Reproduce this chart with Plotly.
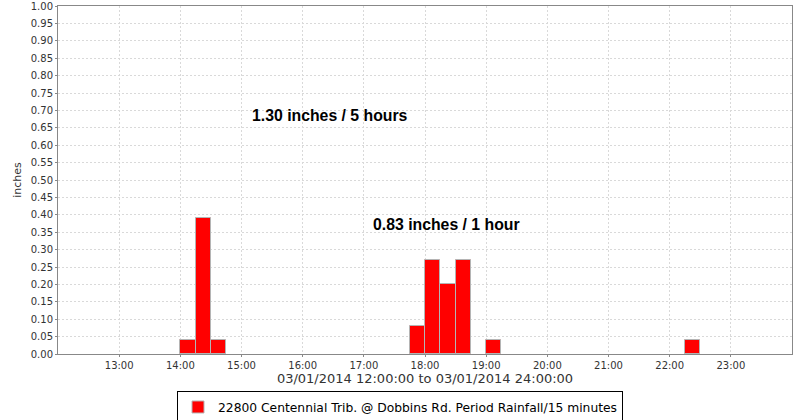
import plotly.graph_objects as go

# 15-minute period start times and rainfall (inches)
period_starts = ["2014-03-01 14:00", "2014-03-01 14:15", "2014-03-01 14:30",
                 "2014-03-01 17:45", "2014-03-01 18:00", "2014-03-01 18:15",
                 "2014-03-01 18:30", "2014-03-01 19:00", "2014-03-01 22:15"]
rainfall = [0.04, 0.39, 0.04, 0.08, 0.27, 0.20, 0.27, 0.04, 0.04]

series_name = "22800 Centennial Trib. @ Dobbins Rd. Period Rainfall/15 minutes"
tick_vals = ["2014-03-01 %02d:00" % h for h in range(13, 24)]
tick_text = ["%02d:00" % h for h in range(13, 24)]
y_ticks = [i * 0.05 for i in range(21)]
y_tick_text = ["%.2f" % v for v in y_ticks]

fig = go.Figure()
fig.add_trace(go.Bar(
    x=period_starts, y=rainfall, name=series_name,
    width=15 * 60 * 1000, offset=0,
    marker=dict(color="#ff0000", line=dict(color="#b4b4b4", width=1)),
    showlegend=True,
))

grid = dict(showgrid=True, gridcolor="#d9d9d9", griddash="2px,2px", gridwidth=1)

fig.update_layout(
    width=800, height=420,
    margin=dict(l=58, r=8, t=6, b=66),
    paper_bgcolor="white", plot_bgcolor="white",
    font=dict(family="DejaVu Sans", size=11, color="#333333"),
    bargap=0,
    xaxis=dict(
        range=["2014-03-01 12:00", "2014-03-02 00:00"],
        tickvals=tick_vals, ticktext=tick_text,
        ticks="outside", ticklen=2, tickcolor="#888888",
        showline=True, linecolor="#888888", mirror=True,
        tickfont=dict(size=10, color="#333333"),
        title=dict(text="03/01/2014 12:00:00 to 03/01/2014 24:00:00",
                   font=dict(size=13, color="#333333"), standoff=3),
        automargin=False,
        **grid,
    ),
    yaxis=dict(
        range=[0, 1.0],
        tickvals=y_ticks, ticktext=y_tick_text,
        ticks="outside", ticklen=2, tickcolor="#888888",
        showline=True, linecolor="#888888", mirror=True,
        tickfont=dict(size=10, color="#333333"),
        title=dict(text="inches", font=dict(size=11, color="#333333"), standoff=6),
        zeroline=False,
        automargin=False,
        **grid,
    ),
    legend=dict(
        orientation="h", x=0.5, xanchor="center", xref="container",
        y=0.031, yanchor="middle", yref="container",
        bordercolor="#000000", borderwidth=1, bgcolor="white",
        font=dict(size=12.3, color="#000000"),
        itemwidth=30,
    ),
    annotations=[
        dict(x="2014-03-01 15:08", y=0.684, xref="x", yref="y",
             text="<b>1.30 inches / 5 hours</b>", showarrow=False, xanchor="left",
             yanchor="middle",
             font=dict(family="Liberation Sans", size=15.8, color="#000000")),
        dict(x="2014-03-01 17:07", y=0.371, xref="x", yref="y",
             text="<b>0.83 inches / 1 hour</b>", showarrow=False, xanchor="left",
             yanchor="middle",
             font=dict(family="Liberation Sans", size=15.8, color="#000000")),
    ],
)

fig.write_html("out.html", post_script="document.body.style.margin='0';",
               config={"displayModeBar": False})
